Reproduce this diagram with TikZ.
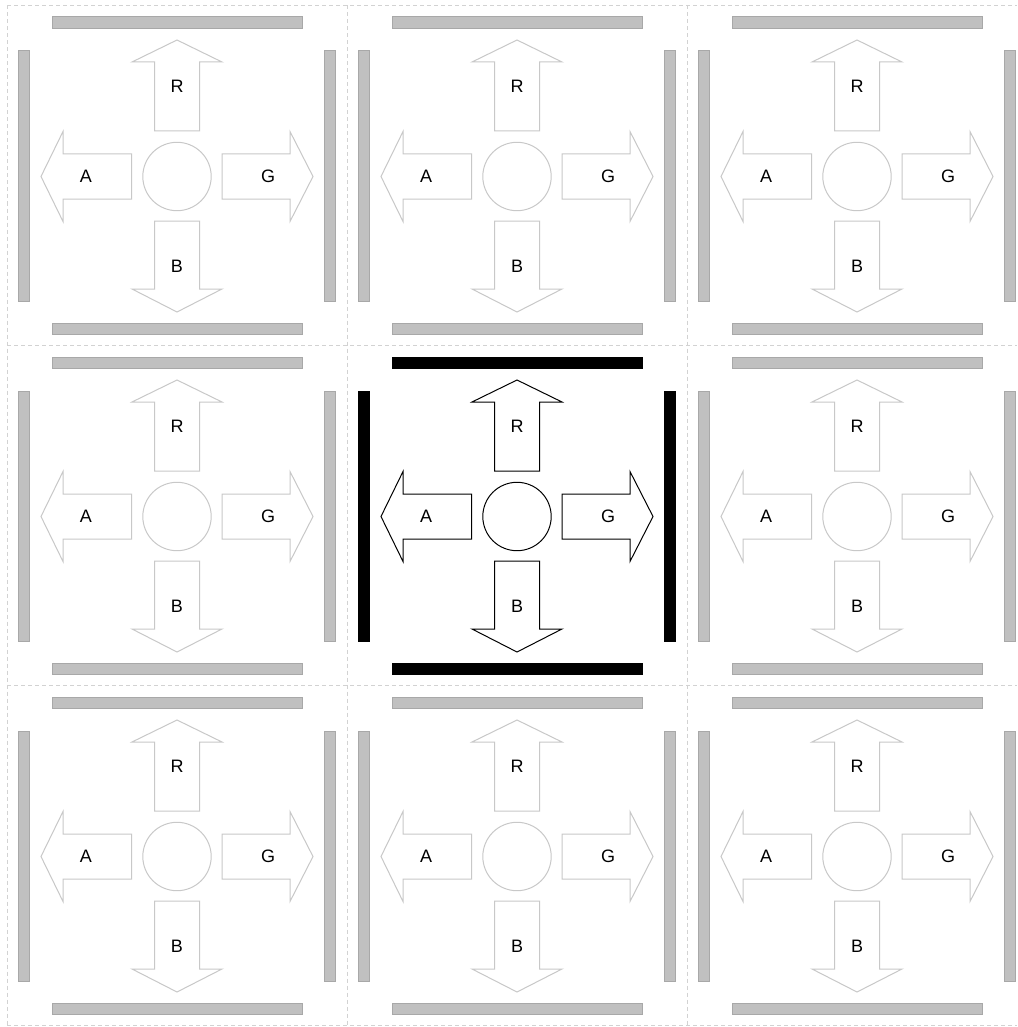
\documentclass[tikz,border=0pt]{standalone}
\usepackage{fontspec}
\setmainfont{Liberation Sans}
\definecolor{gridc}{HTML}{D2D2D2}
\definecolor{barfill}{HTML}{C0C0C0}
\definecolor{barline}{HTML}{A8A8A8}
\definecolor{arrc}{HTML}{C8C8C8}
\tikzset{
  gridline/.style={gridc, line width=1pt, dash pattern=on 4pt off 3pt},
  barbox/.style={fill=barfill, draw=barline, line width=1pt},
  arrowshape/.style={draw=arrc, fill=white, line width=1pt, line join=miter},
  hub/.style={circle, draw=arrc, fill=white, line width=1pt, minimum size=68.4pt, inner sep=0pt},
  lbl/.style={font=\fontsize{18}{21}\selectfont, text=black, inner sep=0pt},
  active/.style={
    barbox/.style={fill=black, draw=black, line width=1pt},
    arrowshape/.style={draw=black, fill=white, line width=1pt, line join=miter},
    hub/.style={circle, draw=black, fill=white, line width=1pt, minimum size=68.4pt, inner sep=0pt}
  }
}
\newcommand{\drawcell}[1]{%
  \draw[barbox] (52,17) rectangle (302,28.5);
  \draw[barbox] (52,323) rectangle (302,334.5);
  \draw[barbox] (18,51) rectangle (29.5,301);
  \draw[barbox] (324,51) rectangle (335.5,301);
  \draw[arrowshape] (154.5,131) -- (154.5,62) -- (132,62) -- (177,40) -- (222,62) -- (199.5,62) -- (199.5,131) -- cycle;
  \draw[arrowshape] (154.5,221) -- (154.5,289) -- (132,289) -- (177,312) -- (222,289) -- (199.5,289) -- (199.5,221) -- cycle;
  \draw[arrowshape] (131.5,154) -- (63,154) -- (63,131.5) -- (41,176.5) -- (63,221.5) -- (63,199) -- (131.5,199) -- cycle;
  \draw[arrowshape] (222,154) -- (290,154) -- (290,131.5) -- (313,176.5) -- (290,221.5) -- (290,199) -- (222,199) -- cycle;
  \node[hub] (hub#1) at (177,176.5) {};
  \node[lbl] (R#1) at (177,86.5) {R};
  \node[lbl] (B#1) at (177,266.5) {B};
  \node[lbl] (A#1) at (86,176.5) {A};
  \node[lbl] (G#1) at (268,176.5) {G};
}
\begin{document}
\begin{tikzpicture}[x=1pt, y=-1pt]
  \useasboundingbox (0,0) rectangle (1017,1027);
  \fill[white] (0,0) rectangle (1017,1027);
  % grid
  \foreach \yy in {5.5,345.5,685.5,1025.5}
    \draw[gridline] (7,\yy) -- (1017,\yy);
  \foreach \xx in {7,347,687}
    \draw[gridline] (\xx,5.5) -- (\xx,1025.5);
  % cells
  \foreach \i in {0,1,2}{
    \foreach \j in {0,1,2}{
      \ifnum\i\j=11\relax
      \else
        \begin{scope}[shift={(\i*340,\j*340)}]
          \drawcell{\i\j}
        \end{scope}
      \fi
    }
  }
  \begin{scope}[shift={(340,340)}, active]
    \drawcell{11}
  \end{scope}
\end{tikzpicture}
\end{document}
